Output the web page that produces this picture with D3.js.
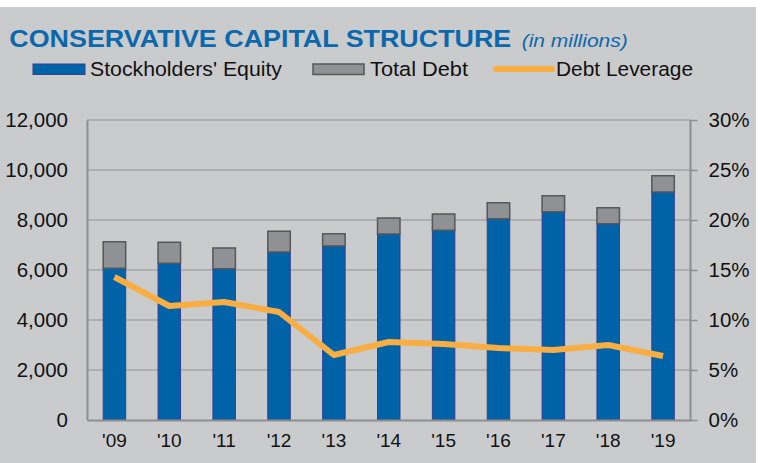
<!DOCTYPE html>
<html><head><meta charset="utf-8">
<script src="https://cdn.jsdelivr.net/npm/d3@7"></script>
<style>html,body{margin:0;padding:0;background:#fff;}svg{display:block;}</style>
</head><body>
<script>
const years = ["'09","'10","'11","'12","'13","'14","'15","'16","'17","'18","'19"];
const equity = [6070, 6270, 6050, 6720, 6960, 7440, 7590, 8050, 8330, 7850, 9120];
const debt = [1060, 840, 830, 830, 490, 640, 650, 640, 640, 640, 650];
const leverage = [14.3, 11.4, 11.8, 10.8, 6.5, 7.8, 7.6, 7.2, 7.0, 7.5, 6.4];
const leftTicks = [0, 2000, 4000, 6000, 8000, 10000, 12000];
const rightTicks = [0, 5, 10, 15, 20, 25, 30];

const W = 760, H = 463;
const svg = d3.select("body").append("svg").attr("width", W).attr("height", H);
const font = "'Liberation Sans', Arial, sans-serif";

svg.append("rect").attr("x", 0).attr("y", 7).attr("width", 756).attr("height", H - 7).attr("fill", "#CACBCD");

const L = 87, R = 690.5, T = 120, B = 420;
const x = d3.scaleBand().domain(years).range([L, R]).paddingInner(0.59).paddingOuter(0.295);
const y = d3.scaleLinear().domain([0, 12000]).range([B, T]);
const y2 = d3.scaleLinear().domain([0, 30]).range([B, T]);

// gridlines
svg.append("g").selectAll("line").data(leftTicks.filter(d => d > 0)).join("line")
  .attr("x1", L).attr("x2", R).attr("y1", d => y(d)).attr("y2", d => y(d))
  .attr("stroke", "#A4A5A7").attr("stroke-width", 1.5);

// right axis
const rAxis = svg.append("g").attr("transform", `translate(${R},0)`)
  .call(d3.axisRight(y2).tickValues(rightTicks).tickSize(7).tickPadding(11).tickFormat(d => d + "%"));
rAxis.select(".domain").attr("stroke", "#8E8E8E").attr("stroke-width", 2).attr("d", `M0,${T}V${B}`);
rAxis.selectAll(".tick line").attr("stroke", "#8E8E8E").attr("stroke-width", 1.5);
rAxis.selectAll(".tick text").attr("font-family", font).attr("font-size", 20.5).attr("fill", "#111");

// left axis
const lAxis = svg.append("g").attr("transform", `translate(${L},0)`)
  .call(d3.axisLeft(y).tickValues(leftTicks).tickSize(0).tickPadding(19).tickFormat(d3.format(",")));
lAxis.select(".domain").attr("stroke", "#8E8E8E").attr("stroke-width", 2);
lAxis.selectAll(".tick text").attr("font-family", font).attr("font-size", 20.5).attr("fill", "#111");

// bars
const g = svg.append("g");
g.selectAll("rect.eq").data(years).join("rect").attr("class", "eq")
  .attr("x", d => x(d)).attr("width", x.bandwidth())
  .attr("y", (d, i) => y(equity[i])).attr("height", (d, i) => B - y(equity[i]))
  .attr("fill", "#0062A7").attr("stroke", "#343F96").attr("stroke-width", 1);
g.selectAll("rect.db").data(years).join("rect").attr("class", "db")
  .attr("x", d => x(d)).attr("width", x.bandwidth())
  .attr("y", (d, i) => y(equity[i] + debt[i])).attr("height", (d, i) => y(equity[i]) - y(equity[i] + debt[i]))
  .attr("fill", "#8F9194").attr("stroke", "#55575A").attr("stroke-width", 1.5);

// bottom axis
const bAxis = svg.append("g").attr("transform", `translate(0,${B})`)
  .call(d3.axisBottom(x).tickSize(0).tickPadding(14));
bAxis.select(".domain").attr("stroke", "#8E8E8E").attr("stroke-width", 2);
bAxis.selectAll(".tick text").attr("font-family", font).attr("font-size", 19).attr("fill", "#111");

// leverage line
const line = d3.line().x((d, i) => x(years[i]) + x.bandwidth() / 2).y(d => y2(d));
svg.append("path").datum(leverage).attr("d", line).attr("fill", "none")
  .attr("stroke", "#F9AE44").attr("stroke-width", 6).attr("stroke-linejoin", "round");

// title
svg.append("text").attr("x", 9.3).attr("y", 46.7).attr("font-family", font).attr("font-weight", "bold")
  .attr("font-size", 23.5).attr("fill", "#0B68AD").attr("textLength", 502).attr("lengthAdjust", "spacingAndGlyphs")
  .text("CONSERVATIVE CAPITAL STRUCTURE");
svg.append("text").attr("x", 521.7).attr("y", 46.7).attr("font-family", font).attr("font-style", "italic")
  .attr("font-size", 19).attr("fill", "#0B68AD").attr("textLength", 106).attr("lengthAdjust", "spacingAndGlyphs")
  .text("(in millions)");

// legend
const legend = [
  {label: "Stockholders' Equity", type: "eq", sx: 33, sw: 52, tx: 90, tw: 192},
  {label: "Total Debt", type: "db", sx: 313, sw: 51, tx: 370, tw: 98},
  {label: "Debt Leverage", type: "ln", sx: 496, sw: 56, tx: 556, tw: 137}
];
legend.forEach(d => {
  if (d.type === "eq") {
    svg.append("rect").attr("x", d.sx).attr("y", 64).attr("width", d.sw).attr("height", 10.5)
      .attr("fill", "#0062A7").attr("stroke", "#343F96").attr("stroke-width", 1);
  } else if (d.type === "db") {
    svg.append("rect").attr("x", d.sx).attr("y", 64).attr("width", d.sw).attr("height", 10.5)
      .attr("fill", "#8F9194").attr("stroke", "#55575A").attr("stroke-width", 1.5);
  } else {
    svg.append("line").attr("x1", d.sx).attr("x2", d.sx + d.sw).attr("y1", 69).attr("y2", 69)
      .attr("stroke", "#F9AE44").attr("stroke-width", 6).attr("stroke-linecap", "round");
  }
  svg.append("text").attr("x", d.tx).attr("y", 75.5).attr("font-family", font).attr("font-size", 20.5)
    .attr("fill", "#111").attr("textLength", d.tw).attr("lengthAdjust", "spacingAndGlyphs").text(d.label);
});
</script>
</body></html>
